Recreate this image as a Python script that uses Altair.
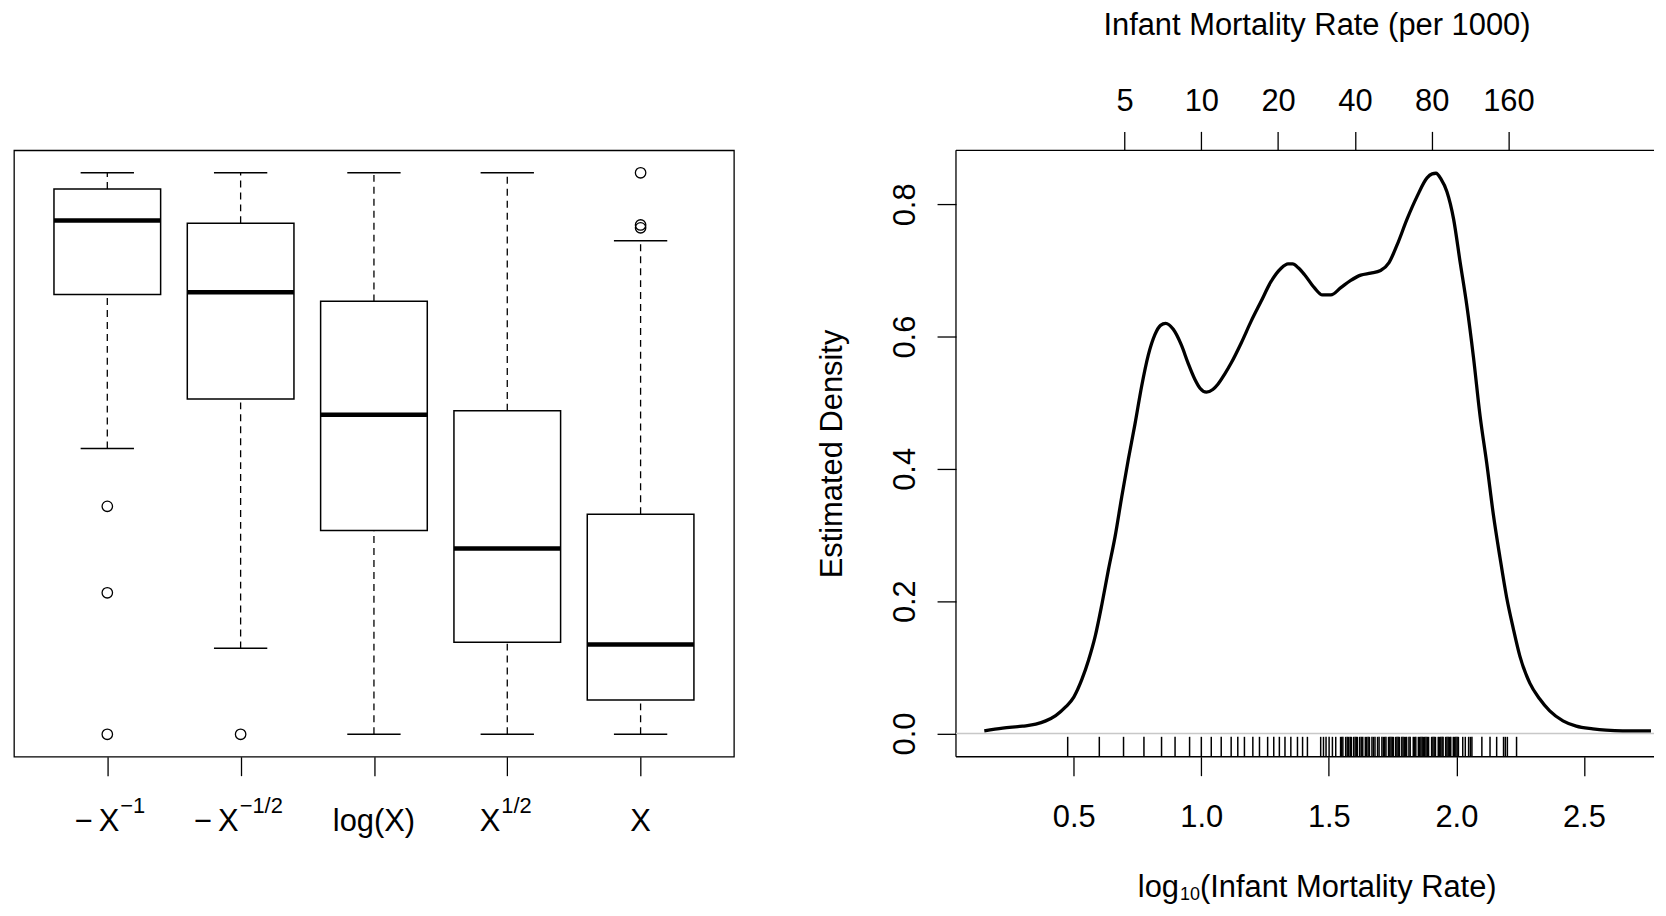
import math
import altair as alt
import pandas as pd

FONT = "Liberation Sans"

# ---------------- left panel: boxplots of transformed, rescaled data ----------------
trans_base = ["\u2212\u2009X", "\u2212\u2009X", "log(X)", "X", "X"]
trans_sup = ["\u22121", "\u22121/2", "", "1/2", ""]
upper_whisker = [1.0, 1.0, 1.0, 1.0, 0.879]
q3 = [0.971, 0.910, 0.771, 0.576, 0.392]
median = [0.915, 0.787, 0.569, 0.331, 0.160]
q1 = [0.783, 0.597, 0.363, 0.164, 0.061]
lower_whisker = [0.509, 0.153, 0.0, 0.0, 0.0]
outlier_box = [1, 1, 1, 2, 5, 5, 5]
outlier_value = [0.406, 0.252, 0.0, 0.0, 1.0, 0.907, 0.902]

# ---------------- right panel: density of log10(infant mortality) ----------------
dens_x = [0.149, 0.221, 0.299, 0.351, 0.390, 0.429, 0.468, 0.500, 0.532, 0.558,
          0.584, 0.610, 0.636, 0.662, 0.688, 0.714, 0.740, 0.766, 0.792, 0.818,
          0.840, 0.860, 0.890, 0.922, 0.948, 0.974, 0.995, 1.020, 1.045, 1.065,
          1.091, 1.117, 1.156, 1.195, 1.234, 1.273, 1.312, 1.340, 1.358, 1.380,
          1.404, 1.443, 1.475, 1.508, 1.547, 1.586, 1.625, 1.664, 1.703, 1.736,
          1.768, 1.807, 1.846, 1.885, 1.905, 1.920, 1.940, 1.963, 1.989, 2.015,
          2.041, 2.067, 2.093, 2.119, 2.145, 2.171, 2.197, 2.223, 2.249, 2.288,
          2.327, 2.366, 2.418, 2.470, 2.535, 2.587, 2.652, 2.763]
dens_y = [0.004, 0.008, 0.011, 0.014, 0.019, 0.027, 0.040, 0.055, 0.082, 0.111,
          0.147, 0.195, 0.248, 0.298, 0.358, 0.415, 0.468, 0.525, 0.572, 0.603,
          0.617, 0.620, 0.611, 0.587, 0.560, 0.536, 0.522, 0.516, 0.520, 0.528,
          0.543, 0.560, 0.590, 0.623, 0.653, 0.683, 0.703, 0.710, 0.710, 0.704,
          0.694, 0.674, 0.663, 0.663, 0.674, 0.685, 0.693, 0.696, 0.700, 0.712,
          0.739, 0.778, 0.812, 0.840, 0.846, 0.847, 0.838, 0.819, 0.778, 0.712,
          0.647, 0.569, 0.480, 0.409, 0.331, 0.266, 0.206, 0.159, 0.117, 0.076,
          0.052, 0.034, 0.019, 0.011, 0.007, 0.005, 0.004, 0.004]
rug_x = [0.476, 0.600, 0.695, 0.775, 0.844, 0.897, 0.954, 1.000, 1.039, 1.078,
         1.117, 1.143, 1.169, 1.202, 1.228, 1.260, 1.284, 1.306, 1.328, 1.351,
         1.377, 1.397, 1.416, 1.468, 1.479, 1.489, 1.501, 1.514, 1.527, 1.546,
         1.550, 1.555, 1.566, 1.572, 1.578, 1.584, 1.588, 1.597, 1.603, 1.608,
         1.612, 1.621, 1.627, 1.633, 1.643, 1.648, 1.654, 1.659, 1.669, 1.675,
         1.681, 1.691, 1.697, 1.708, 1.714, 1.719, 1.724, 1.734, 1.739, 1.744,
         1.749, 1.753, 1.762, 1.767, 1.772, 1.777, 1.786, 1.791, 1.796, 1.801,
         1.805, 1.814, 1.819, 1.831, 1.836, 1.841, 1.851, 1.856, 1.861, 1.866,
         1.871, 1.876, 1.881, 1.886, 1.891, 1.903, 1.908, 1.913, 1.918, 1.929,
         1.934, 1.939, 1.944, 1.948, 1.958, 1.963, 1.968, 1.973, 1.978, 1.988,
         1.993, 1.998, 2.003, 2.008, 2.025, 2.035, 2.048, 2.055, 2.061, 2.100,
         2.132, 2.158, 2.185, 2.192, 2.200, 2.236]
top_ticks = [5, 10, 20, 40, 80, 160]
bottom_ticks = [0.5, 1.0, 1.5, 2.0, 2.5]
density_ticks = [0.0, 0.2, 0.4, 0.6, 0.8]

# ---------------- tables ----------------
box = pd.DataFrame({
    "pos": list(range(1, len(q3) + 1)),
    "upper": upper_whisker, "q3": q3, "median": median,
    "q1": q1, "lower": lower_whisker,
})
outl = pd.DataFrame({"pos": outlier_box, "value": outlier_value})
labels = pd.DataFrame({"pos": list(range(1, len(trans_base) + 1)),
                       "base": trans_base, "sup": trans_sup})
dens = pd.DataFrame({"v": dens_x, "d": dens_y})
rug = pd.DataFrame({"r": rug_x})
one = pd.DataFrame({"a": [0]})

# ---------------- left chart ----------------
W1, H1 = 723, 609
xs1 = alt.Scale(domain=[0.3, 5.7], nice=False, zero=False)
ys1 = alt.Scale(domain=[-0.04, 1.04], nice=False, zero=False)
xaxis1 = alt.Axis(values=[1, 2, 3, 4, 5], labels=False, tickSize=19, tickWidth=1.3,
                  tickColor="black", domain=False, grid=False, title=None)

bbase = alt.Chart(box).transform_calculate(
    xl="datum.pos - 0.4", xr="datum.pos + 0.4",
    cl="datum.pos - 0.2", cr="datum.pos + 0.2")

whisk_up = bbase.mark_rule(color="black", strokeWidth=1.3, strokeDash=[7, 5]).encode(
    x=alt.X("pos:Q", scale=xs1, axis=xaxis1),
    y=alt.Y("q3:Q", scale=ys1, axis=None), y2="upper:Q")
whisk_lo = bbase.mark_rule(color="black", strokeWidth=1.3, strokeDash=[7, 5]).encode(
    x=alt.X("pos:Q", scale=xs1, axis=xaxis1),
    y=alt.Y("lower:Q", scale=ys1, axis=None), y2="q1:Q")
cap_up = bbase.mark_rule(color="black", strokeWidth=1.5).encode(
    x=alt.X("cl:Q", scale=xs1, axis=xaxis1), x2="cr:Q",
    y=alt.Y("upper:Q", scale=ys1, axis=None))
cap_lo = bbase.mark_rule(color="black", strokeWidth=1.5).encode(
    x=alt.X("cl:Q", scale=xs1, axis=xaxis1), x2="cr:Q",
    y=alt.Y("lower:Q", scale=ys1, axis=None))
boxes = bbase.mark_rect(fill="white", stroke="black", strokeWidth=1.5).encode(
    x=alt.X("xl:Q", scale=xs1, axis=xaxis1), x2="xr:Q",
    y=alt.Y("q1:Q", scale=ys1, axis=None), y2="q3:Q")
meds = bbase.mark_rule(color="black", strokeWidth=4.5).encode(
    x=alt.X("xl:Q", scale=xs1, axis=xaxis1), x2="xr:Q",
    y=alt.Y("median:Q", scale=ys1, axis=None))
outs = alt.Chart(outl).mark_point(shape="circle", filled=False, size=110,
                                  color="black", strokeWidth=1.3, opacity=1).encode(
    x=alt.X("pos:Q", scale=xs1, axis=xaxis1),
    y=alt.Y("value:Q", scale=ys1, axis=None))

anchor_dx = [12, -2, 0, -7, 0]
label_layers = []
for i in range(len(trans_base)):
    sub = alt.Chart(labels).transform_filter(f"datum.pos == {i + 1}")
    if trans_sup[i]:
        label_layers.append(sub.mark_text(align="right", baseline="alphabetic", fontSize=31,
                                          font=FONT, color="black", dx=anchor_dx[i]).encode(
            x=alt.X("pos:Q", scale=xs1, axis=xaxis1), y=alt.value(H1 + 75), text="base:N"))
        label_layers.append(sub.mark_text(align="left", baseline="alphabetic", fontSize=22,
                                          font=FONT, color="black", dx=anchor_dx[i] + 1).encode(
            x=alt.X("pos:Q", scale=xs1, axis=xaxis1), y=alt.value(H1 + 57), text="sup:N"))
    else:
        label_layers.append(sub.mark_text(align="center", baseline="alphabetic", fontSize=31,
                                          font=FONT, color="black").encode(
            x=alt.X("pos:Q", scale=xs1, axis=xaxis1), y=alt.value(H1 + 75), text="base:N"))

left = alt.layer(whisk_up, whisk_lo, cap_up, cap_lo, boxes, meds, outs,
                 *label_layers).properties(width=W1, height=H1)

# ---------------- right chart ----------------
W2, H2 = 701, 609
xs2 = alt.Scale(domain=[0.038, 2.775], nice=False, zero=False)
ys2 = alt.Scale(domain=[-0.0352, 0.8817], nice=False, zero=False)

bottom_axis = alt.Axis(values=bottom_ticks, format=".1f", tickSize=19, tickWidth=1.3,
                       tickColor="black", labelFontSize=31, labelPadding=27,
                       labelColor="black", labelFont=FONT, domain=False, grid=False,
                       title=None, labelFlush=False, labelOverlap=False)
top_axis = alt.Axis(orient="top", values=[math.log10(t) for t in top_ticks],
                    labelExpr="round(pow(10, datum.value))", tickSize=19, tickWidth=1.3,
                    tickColor="black", labelFontSize=31, labelPadding=14,
                    labelColor="black", labelFont=FONT, domain=False, grid=False,
                    labelFlush=False, labelOverlap=False,
                    title="Infant Mortality Rate (per 1000)", titleFontSize=31,
                    titleFontWeight="normal", titleFont=FONT, titleColor="black",
                    titlePadding=44, titleX=362, titleAlign="center")
y_axis = alt.Axis(values=density_ticks, format=".1f", labelAngle=270, labelAlign="center",
                  labelBaseline="bottom", tickSize=19, tickWidth=1.3, tickColor="black",
                  labelFontSize=31, labelPadding=16, labelColor="black", labelFont=FONT,
                  domain=False, grid=False, labelFlush=False, labelOverlap=False,
                  title="Estimated Density", titleFontSize=31, titleFontWeight="normal",
                  titleFont=FONT, titleColor="black", titlePadding=41)

frame_top = alt.Chart(one).mark_rule(color="black", strokeWidth=1.3).encode(y=alt.value(0))
frame_bot = alt.Chart(one).mark_rule(color="black", strokeWidth=1.3).encode(y=alt.value(H2))
frame_lft = alt.Chart(one).mark_rule(color="black", strokeWidth=1.3).encode(x=alt.value(0))

zero_line = alt.Chart(pd.DataFrame({"z": [0.0]})).mark_rule(
    color="#c8c8c8", strokeWidth=1.5).encode(y=alt.Y("z:Q", scale=ys2, axis=y_axis))
curve = alt.Chart(dens).mark_line(color="black", strokeWidth=3.3,
                                  interpolate="monotone").encode(
    x=alt.X("v:Q", scale=xs2, axis=bottom_axis),
    y=alt.Y("d:Q", scale=ys2, axis=y_axis))
rugs = alt.Chart(rug).mark_rule(color="black", strokeWidth=1.5).encode(
    x=alt.X("r:Q", scale=xs2, axis=top_axis),
    y=alt.value(H2), y2=alt.value(H2 - 20))

title_parts = pd.DataFrame({"t": ["log", "10", "(Infant Mortality Rate)"]})
t_log = alt.Chart(title_parts).transform_filter("datum.t == 'log'").mark_text(
    align="right", baseline="alphabetic", fontSize=31, font=FONT, color="black").encode(
    text="t:N", x=alt.value(224), y=alt.value(H2 + 141))
t_sub = alt.Chart(title_parts).transform_filter("datum.t == '10'").mark_text(
    align="left", baseline="alphabetic", fontSize=18, font=FONT, color="black").encode(
    text="t:N", x=alt.value(225), y=alt.value(H2 + 144))
t_rest = alt.Chart(title_parts).transform_filter("datum.t != 'log' && datum.t != '10'").mark_text(
    align="left", baseline="alphabetic", fontSize=31, font=FONT, color="black").encode(
    text="t:N", x=alt.value(245), y=alt.value(H2 + 141))

right = alt.layer(frame_top, frame_bot, frame_lft, zero_line, curve, rugs,
                  t_log, t_sub, t_rest).resolve_axis(
    x="independent").properties(width=W2, height=H2,
                                view=alt.ViewBackground(strokeOpacity=0))

chart = alt.hconcat(left, right, spacing=82).properties(
    padding={"left": 5, "top": 0, "right": 0, "bottom": 0},
    background="white",
).configure_view(stroke="black", strokeWidth=1.3)

chart.save("out.html", embed_options={"renderer": "svg", "actions": False})
